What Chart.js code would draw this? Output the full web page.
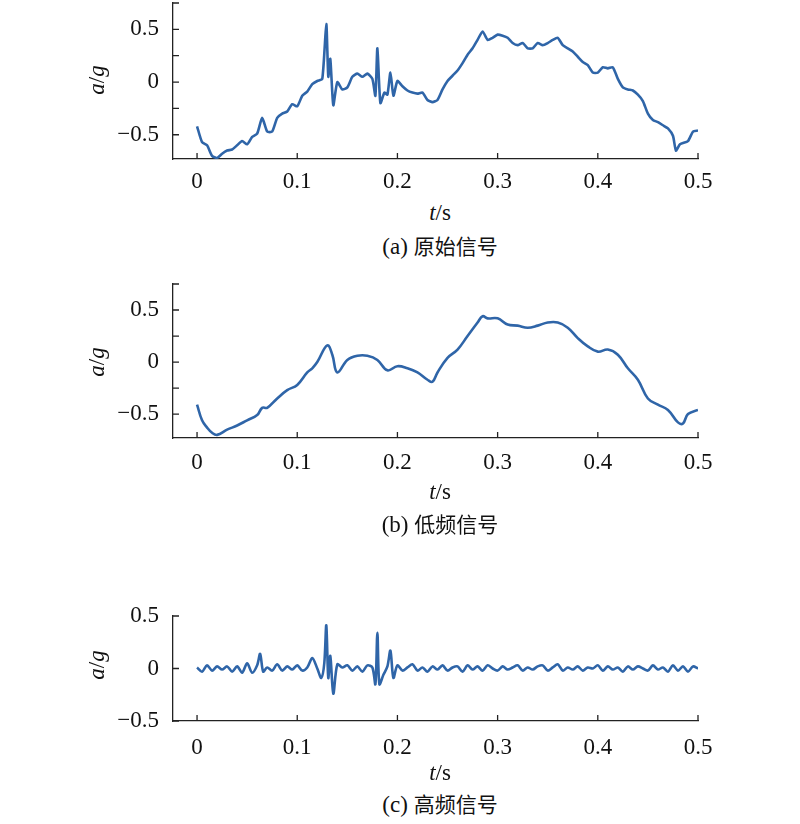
<!DOCTYPE html>
<html>
<head>
<meta charset="utf-8">
<script src="https://cdn.jsdelivr.net/npm/chart.js@4"></script>
<style>
  body { margin: 0; background: #fff; width: 800px; height: 824px; position: relative; overflow: hidden; color: #111; }
  .panel { position: absolute; left: 0; width: 800px; }
  .txt, .ytitle { position: absolute; font-family: 'Liberation Serif'; font-size: 23px; white-space: nowrap; }
  .txt { transform: translate(-50%, -50%); }
  .ytitle { transform: translate(-50%, -50%) rotate(-90deg); }
  .cn { font-family: 'Noto Sans CJK SC'; font-size: 21px; }
</style>
</head>
<body>
<div class="panel" style="top:0;height:200px"><canvas id="chartA"></canvas></div>
<div class="panel" style="top:280px;height:200px"><canvas id="chartB"></canvas></div>
<div class="panel" style="top:600px;height:170px"><canvas id="chartC"></canvas></div>

<div class="ytitle" style="left:97px;top:80px"><i>a</i>/<i>g</i></div>
<div class="ytitle" style="left:97px;top:362px"><i>a</i>/<i>g</i></div>
<div class="ytitle" style="left:97px;top:665px"><i>a</i>/<i>g</i></div>

<div class="txt" style="left:440px;top:213px"><i>t</i>/s</div>
<div class="txt" style="left:440px;top:492px"><i>t</i>/s</div>
<div class="txt" style="left:440px;top:773px"><i>t</i>/s</div>

<div class="txt" style="left:440px;top:245px">(a) <span class="cn">原始信号</span></div>
<div class="txt" style="left:440px;top:523px">(b) <span class="cn">低频信号</span></div>
<div class="txt" style="left:440px;top:803px">(c) <span class="cn">高频信号</span></div>

<script>
// ==============================
// DATA
// ==============================
const xTicks = [0, 0.1, 0.2, 0.3, 0.4, 0.5];
const yTicksAB = [-0.5, -0.25, 0, 0.25, 0.5, 0.75];
const yTicksC = [-0.5, 0, 0.5];
const yLabels = [-0.5, 0, 0.5];

// (a) original signal
const tRaw = [0, 0.005, 0.01, 0.015, 0.02, 0.025, 0.03, 0.035, 0.04, 0.045, 0.05, 0.055, 0.06, 0.065, 0.07, 0.075,
  0.08, 0.085, 0.09, 0.095, 0.1, 0.105, 0.11, 0.115, 0.12, 0.125, 0.129, 0.131, 0.133, 0.136, 0.14, 0.145, 0.15,
  0.155, 0.16, 0.165, 0.17, 0.175, 0.178, 0.18, 0.183, 0.187, 0.19, 0.193, 0.196, 0.2, 0.205, 0.21, 0.215, 0.22,
  0.225, 0.23, 0.235, 0.24, 0.245, 0.25, 0.255, 0.26, 0.265, 0.27, 0.275, 0.28, 0.285, 0.29, 0.295, 0.3, 0.305,
  0.31, 0.315, 0.32, 0.325, 0.33, 0.335, 0.34, 0.345, 0.35, 0.355, 0.36, 0.365, 0.37, 0.375, 0.38, 0.385, 0.39,
  0.395, 0.4, 0.405, 0.41, 0.415, 0.42, 0.425, 0.43, 0.435, 0.44, 0.445, 0.45, 0.455, 0.46, 0.465, 0.47, 0.475,
  0.478, 0.482, 0.49, 0.495, 0.5];
const aRaw = [-0.42, -0.57, -0.60, -0.70, -0.72, -0.68, -0.65, -0.64, -0.60, -0.56, -0.59, -0.52, -0.49, -0.34, -0.47, -0.47,
  -0.34, -0.30, -0.28, -0.21, -0.23, -0.13, -0.09, -0.02, 0.01, 0.03, 0.55, 0.05, 0.22, -0.22, 0.0, -0.07, -0.05,
  0.05, 0.08, 0.05, 0.08, 0.03, -0.13, 0.32, -0.20, -0.10, -0.12, 0.09, -0.13, 0.01, -0.04, -0.08, -0.10, -0.11,
  -0.10, -0.17, -0.19, -0.17, -0.07, 0.01, 0.06, 0.11, 0.18, 0.26, 0.32, 0.40, 0.48, 0.40, 0.42, 0.45, 0.44,
  0.42, 0.37, 0.35, 0.37, 0.32, 0.32, 0.37, 0.35, 0.37, 0.40, 0.42, 0.35, 0.32, 0.29, 0.24, 0.19, 0.16,
  0.09, 0.09, 0.14, 0.13, 0.14, 0.03, -0.05, -0.07, -0.08, -0.12, -0.18, -0.30, -0.36, -0.38, -0.41, -0.44, -0.51,
  -0.65, -0.59, -0.56, -0.47, -0.46];

// (b) low-frequency signal
const tLow = [0, 0.005, 0.01, 0.015, 0.02, 0.03, 0.04, 0.05, 0.06, 0.065, 0.07, 0.08, 0.09, 0.1, 0.11, 0.115, 0.12,
  0.13, 0.135, 0.14, 0.15, 0.16, 0.17, 0.18, 0.19, 0.2, 0.21, 0.22, 0.23, 0.235, 0.24, 0.25, 0.26, 0.27, 0.28,
  0.285, 0.29, 0.3, 0.31, 0.32, 0.33, 0.34, 0.35, 0.36, 0.37, 0.38, 0.39, 0.4, 0.41, 0.42, 0.43, 0.44, 0.45, 0.46,
  0.47, 0.48, 0.485, 0.49, 0.5];
const aLow = [-0.41, -0.56, -0.63, -0.68, -0.70, -0.65, -0.61, -0.56, -0.51, -0.44, -0.44, -0.35, -0.27, -0.22, -0.10, -0.06, 0.0,
  0.16, 0.07, -0.10, 0.02, 0.06, 0.06, 0.02, -0.08, -0.04, -0.06, -0.10, -0.17, -0.19, -0.10, 0.04, 0.12, 0.25, 0.38,
  0.44, 0.42, 0.42, 0.36, 0.35, 0.33, 0.35, 0.38, 0.38, 0.33, 0.23, 0.15, 0.10, 0.12, 0.07, -0.06, -0.17, -0.35, -0.41,
  -0.46, -0.58, -0.59, -0.50, -0.46];

// (c) high-frequency signal
const tHigh = [0, 0.005, 0.01, 0.015, 0.02, 0.025, 0.03, 0.035, 0.04, 0.045, 0.05, 0.055, 0.06, 0.063, 0.066, 0.07,
  0.075, 0.08, 0.085, 0.09, 0.095, 0.1, 0.105, 0.11, 0.115, 0.12, 0.124, 0.127, 0.129, 0.131, 0.133, 0.136, 0.14,
  0.145, 0.15, 0.155, 0.16, 0.165, 0.17, 0.175, 0.178, 0.18, 0.182, 0.186, 0.19, 0.193, 0.196, 0.2, 0.205, 0.21,
  0.215, 0.22, 0.225, 0.23, 0.235, 0.24, 0.245, 0.25, 0.255, 0.26, 0.265, 0.27, 0.275, 0.28, 0.285, 0.29, 0.295,
  0.3, 0.305, 0.31, 0.315, 0.32, 0.325, 0.33, 0.335, 0.34, 0.345, 0.35, 0.355, 0.36, 0.365, 0.37, 0.375, 0.38,
  0.385, 0.39, 0.395, 0.4, 0.405, 0.41, 0.415, 0.42, 0.425, 0.43, 0.435, 0.44, 0.445, 0.45, 0.455, 0.46, 0.465,
  0.47, 0.475, 0.48, 0.485, 0.49, 0.495, 0.5];
const aHigh = [0.01, -0.03, 0.03, -0.02, 0.02, -0.01, 0.02, -0.03, 0.02, -0.04, 0.05, -0.04, 0.03, 0.14, -0.03, 0.01,
  -0.02, 0.04, -0.02, 0.02, -0.01, 0.03, -0.02, 0.01, 0.10, 0.0, -0.09, 0.05, 0.41, -0.09, 0.12, -0.24, 0.04,
  0.01, 0.03, -0.02, 0.02, -0.03, 0.03, 0.01, -0.15, 0.34, -0.15, -0.06, 0.02, 0.17, -0.09, 0.03, -0.02, 0.01,
  0.04, -0.02, 0.01, -0.03, 0.02, -0.01, 0.03, -0.02, 0.01, 0.02, -0.03, 0.03, -0.01, 0.02, -0.02, 0.03, 0.0,
  -0.02, 0.02, -0.01, 0.01, 0.03, -0.02, 0.01, -0.01, 0.02, 0.03, -0.02, 0.01, 0.04, -0.02, 0.01, -0.01, 0.02,
  -0.02, 0.01, 0.0, 0.03, -0.02, 0.02, -0.01, 0.01, -0.03, 0.02, -0.01, 0.02, 0.0, -0.02, 0.03, -0.01, 0.01,
  -0.03, 0.03, -0.02, 0.02, -0.03, 0.02, 0.0];

// ==============================
// HELPERS
// ==============================
const LINE = "#2f65a8";
const FONT = { family: "'Liberation Serif'", size: 23 };

function fmt(v) {
  if (Math.abs(v) < 1e-9) return "0";
  return (v < 0 ? "\u2212" : "") + Math.abs(v);
}

// inward tick marks on left & bottom axes
const inwardTicks = {
  id: "inwardTicks",
  afterDraw(chart) {
    const ctx = chart.ctx, area = chart.chartArea;
    const xs = chart.scales.x, ys = chart.scales.y;
    ctx.save();
    ctx.strokeStyle = "#222";
    ctx.lineWidth = 1.3;
    ctx.beginPath();
    xs.ticks.forEach(t => {
      const px = xs.getPixelForValue(t.value);
      ctx.moveTo(px, area.bottom);
      ctx.lineTo(px, area.bottom - 6);
    });
    ys.ticks.forEach(t => {
      const py = ys.getPixelForValue(t.value);
      ctx.moveTo(area.left, py);
      ctx.lineTo(area.left + 6, py);
    });
    ctx.stroke();
    ctx.restore();
  }
};

function makeChart(id, ts, vals, cfg) {
  return new Chart(document.getElementById(id), {
    type: "line",
    data: {
      datasets: [{
        data: ts.map((t, i) => ({ x: t, y: vals[i] })),
        borderColor: LINE,
        borderWidth: 2.6,
        pointRadius: 0,
        tension: cfg.tension,
        fill: false
      }]
    },
    options: {
      responsive: true,
      maintainAspectRatio: false,
      animation: false,
      layout: { padding: { top: cfg.top, right: 102, left: 0, bottom: 0 } },
      plugins: { legend: { display: false }, tooltip: { enabled: false } },
      scales: {
        x: {
          type: "linear",
          min: -0.024,
          max: 0.5,
          afterBuildTicks: s => { s.ticks = xTicks.map(v => ({ value: v })); },
          afterFit: s => { s.height = cfg.xh; s.paddingLeft = 0; s.paddingRight = 0; },
          grid: { drawOnChartArea: false, drawTicks: false },
          border: { display: true, color: "#222", width: 1.3 },
          ticks: { color: "#111", font: FONT, padding: cfg.xpad, maxRotation: 0, callback: v => fmt(v) }
        },
        y: {
          type: "linear",
          min: cfg.ymin,
          max: cfg.ymax,
          afterBuildTicks: s => { s.ticks = cfg.yticks.map(v => ({ value: v })); },
          afterFit: s => { s.width = 173; s.paddingTop = 0; s.paddingBottom = 0; },
          grid: { drawOnChartArea: false, drawTicks: false },
          border: { display: true, color: "#222", width: 1.3 },
          ticks: {
            color: "#111", font: FONT, padding: 14,
            callback: v => yLabels.some(l => Math.abs(l - v) < 1e-9) ? fmt(v) : ""
          }
        }
      }
    },
    plugins: [inwardTicks]
  });
}

// ==============================
// DRAW (after the serif font is ready)
// ==============================
document.fonts.load("23px 'Liberation Serif'").finally(() => {
  makeChart("chartA", tRaw, aRaw, { top: 3, xh: 41, xpad: 9, ymin: -0.73, ymax: 0.75, yticks: yTicksAB, tension: 0.2 });
  makeChart("chartB", tLow, aLow, { top: 4, xh: 42, xpad: 11, ymin: -0.73, ymax: 0.75, yticks: yTicksAB, tension: 0.4 });
  makeChart("chartC", tHigh, aHigh, { top: 16, xh: 49, xpad: 13, ymin: -0.5, ymax: 0.5, yticks: yTicksC, tension: 0.3 });
});
</script>
</body>
</html>
